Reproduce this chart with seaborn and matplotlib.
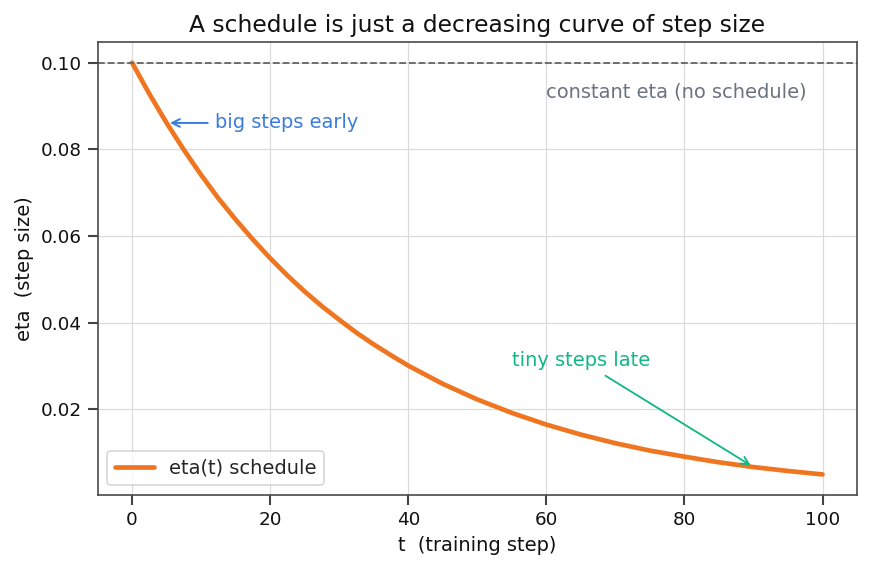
import matplotlib
matplotlib.use("Agg")
import matplotlib.pyplot as plt
import seaborn as sns
import pandas as pd

# data
steps = [0, 2.5, 5, 7.5, 10, 12.5, 15, 17.5, 20, 22.5, 25, 27.5, 30, 32.5, 35, 37.5, 40,
         45, 50, 55, 60, 65, 70, 75, 80, 85, 90, 95, 100]
eta = [0.1000, 0.0928, 0.0861, 0.0799, 0.0741, 0.0687, 0.0638, 0.0592, 0.0549, 0.0509,
       0.0472, 0.0438, 0.0407, 0.0377, 0.0350, 0.0325, 0.0301,
       0.0259, 0.0223, 0.0192, 0.0165, 0.0142, 0.0122, 0.0105, 0.0091, 0.0078, 0.0067,
       0.0058, 0.0050]
constant_eta = 0.10
early_point = (5, 0.0861)
late_point = (90, 0.0067)

df = pd.DataFrame({"t": steps, "eta": eta})

sns.set_theme(style="ticks")
plt.rcParams["font.family"] = ["DejaVu Sans"]

fig, ax = plt.subplots(figsize=(871 / 120, 569 / 120), dpi=120)

sns.lineplot(data=df, x="t", y="eta", ax=ax, color="#F07520", linewidth=2.8,
             label="eta(t) schedule")
ax.axhline(constant_eta, color="#666666", linestyle="--", linewidth=1.1)

ax.text(60, 0.0933, "constant eta (no schedule)", color="#6B7280", fontsize=11.6,
        va="center", ha="left")
ax.annotate("big steps early", xy=early_point, xytext=(12, 0.0861),
            color="#3B7DDD", fontsize=11.6, va="center", ha="left",
            arrowprops=dict(arrowstyle="->", color="#3B7DDD", lw=1.2))
ax.annotate("tiny steps late", xy=late_point, xytext=(55, 0.030),
            color="#10B981", fontsize=11.6, ha="left",
            arrowprops=dict(arrowstyle="->", color="#10B981", lw=1.1))

ax.set_title("A schedule is just a decreasing curve of step size", fontsize=14, color="#111111")
ax.set_xlabel("t  (training step)", fontsize=11.6, color="#111111")
ax.set_ylabel("eta  (step size)", fontsize=11.6, color="#111111")
ax.set_xticks([0, 20, 40, 60, 80, 100])
ax.set_yticks([0.02, 0.04, 0.06, 0.08, 0.10])
ax.tick_params(labelsize=11, color="#444444", labelcolor="#111111")
ax.grid(True, color="#dadada", linewidth=0.7)
for s in ax.spines.values():
    s.set_color("#4a4a4a")
    s.set_linewidth(1.0)

leg = ax.legend(loc="lower left", fontsize=11.6)

fig.subplots_adjust(left=0.112, right=0.984, top=0.926, bottom=0.13)
fig.savefig("out.png", dpi=120)
